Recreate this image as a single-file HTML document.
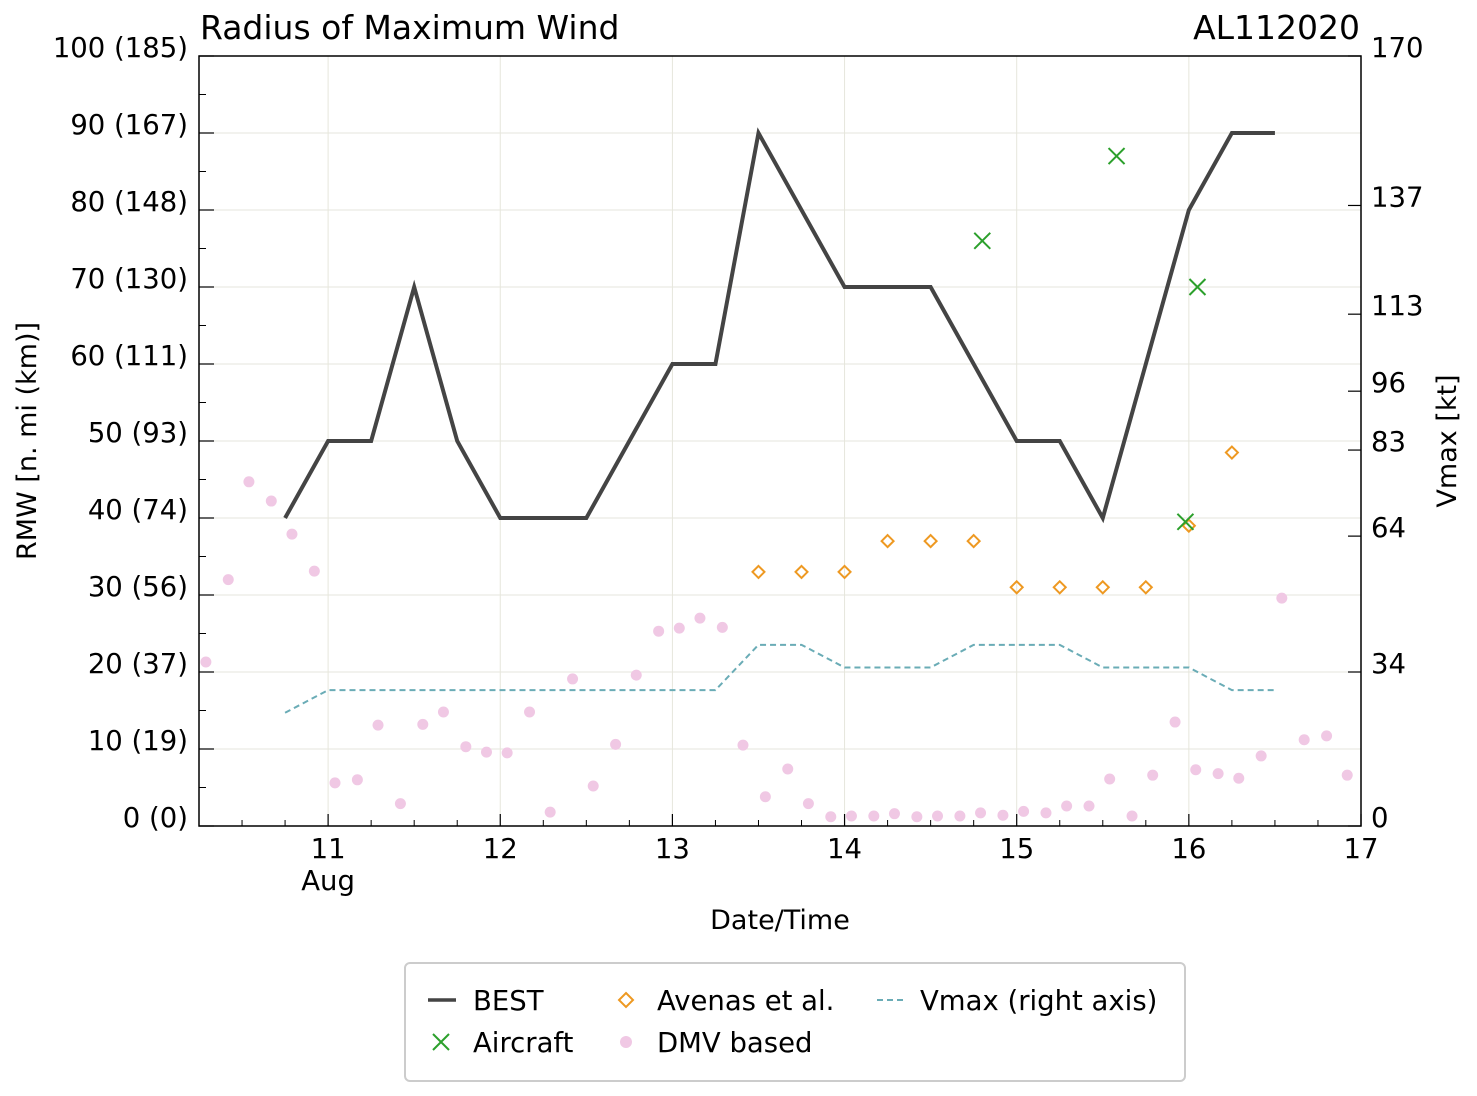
<!DOCTYPE html>
<html><head><meta charset="utf-8"><style>
html,body{margin:0;padding:0;background:#fff;}
svg{display:block;font-family:"DejaVu Sans","Liberation Sans",sans-serif;}
</style></head><body>
<svg id="chart" width="1477" height="1096" viewBox="0 0 1477 1096" xmlns="http://www.w3.org/2000/svg">
<text x="200" y="39" font-size="33">Radius of Maximum Wind</text>
<text x="1360" y="39" font-size="33" text-anchor="end">AL112020</text>
<g id="grid"></g>
<g id="marks"></g>
<rect x="199" y="56" width="1162" height="770" fill="none" stroke="#000" stroke-width="1.5"/>
<g id="axes"></g>
<text x="780" y="929" font-size="27" text-anchor="middle">Date/Time</text>
<text transform="translate(36,441) rotate(-90)" font-size="27" text-anchor="middle">RMW [n. mi (km)]</text>
<text transform="translate(1456,441) rotate(-90)" font-size="27" text-anchor="middle">Vmax [kt]</text>
<g>
<rect x="405" y="963" width="780" height="118" rx="5" fill="#fff" stroke="#ccc" stroke-width="2"/>
<g><line x1="428" y1="1000" x2="456" y2="1000" stroke="#444" stroke-width="3.5"/><text x="473" y="1010" font-size="27.5">BEST</text></g>
<g><path d="M433,1034 L449,1050 M449,1034 L433,1050" stroke="#2ca02c" stroke-width="2"/><text x="473" y="1052" font-size="27.5">Aircraft</text></g>
<g><path d="M626,993 L633,1000 L626,1007 L619,1000 Z" fill="none" stroke="#ee9922" stroke-width="2"/><text x="657" y="1010" font-size="27.5">Avenas et al.</text></g>
<g><circle cx="626" cy="1042" r="6" fill="#f0c8e4"/><text x="657" y="1052" font-size="27.5">DMV based</text></g>
<g><line x1="877" y1="1000" x2="906" y2="1000" stroke="#6aacb6" stroke-width="2" stroke-dasharray="6,4"/><text x="920" y="1010" font-size="27.5">Vmax (right axis)</text></g>
</g>
</svg>
<script>
const bestT=[10.75,11,11.25,11.5,11.75,12,12.5,13,13.25,13.5,14,14.5,15,15.25,15.5,16,16.25,16.5];
const bestR=[40,50,50,70,50,40,40,60,60,90,70,70,50,50,40,80,90,90];
const vmaxT=[10.75,11,13.25,13.5,13.75,14,14.5,14.75,15.25,15.5,16,16.25,16.5];
const vmaxV=[25,30,30,40,40,35,35,40,40,35,35,30,30];
const acT=[14.8,15.58,16.05,15.98];
const acR=[76,87,70,39.5];
const avT=[13.5,13.75,14,14.25,14.5,14.75,15,15.25,15.5,15.75,16,16.25];
const avR=[33,33,33,37,37,37,31,31,31,31,39,48.5];
const dmvT=[10.29,10.42,10.54,10.67,10.79,10.92,11.04,11.17,11.29,11.42,11.55,11.67,11.8,11.92,12.04,12.17,12.29,12.42,12.54,12.67,12.79,12.92,13.04,13.16,13.29,13.41,13.54,13.67,13.79,13.92,14.04,14.17,14.29,14.42,14.54,14.67,14.79,14.92,15.04,15.17,15.29,15.42,15.54,15.67,15.79,15.92,16.04,16.17,16.29,16.42,16.54,16.67,16.8,16.92];
const dmvR=[21.3,32,44.7,42.2,37.9,33.1,5.6,6,13.1,2.9,13.2,14.8,10.3,9.6,9.5,14.8,1.8,19.1,5.2,10.6,19.6,25.3,25.7,27,25.8,10.5,3.8,7.4,2.9,1.2,1.3,1.3,1.6,1.2,1.3,1.3,1.7,1.4,1.9,1.7,2.6,2.6,6.1,1.3,6.6,13.5,7.3,6.8,6.2,9.1,29.6,11.2,11.7,6.6];
const xTicks=[11,12,13,14,15,16,17];
const yTicks=[0,10,20,30,40,50,60,70,80,90,100];
const vTicks=[0,34,64,83,96,113,137,170];

const L=199,R=1361,T=56,B=826,XMIN=10.25,XMAX=17;
const X=t=>L+(t-XMIN)/(XMAX-XMIN)*(R-L);
const Y=v=>B-v/100*(B-T);
const V=v=>B-v/170*(B-T);
const NS="http://www.w3.org/2000/svg";
function mk(tag,attrs,parent){const e=document.createElementNS(NS,tag);for(const k in attrs)e.setAttribute(k,attrs[k]);parent.appendChild(e);return e;}
const grid=document.getElementById('grid'),axes=document.getElementById('axes'),marks=document.getElementById('marks');

xTicks.forEach(t=>{
  if(t<XMAX){const g=mk('line',{x1:X(t),x2:X(t),y1:T,y2:B,stroke:'#e6e6dc','stroke-width':1},grid);
  
  }
  mk('line',{x1:X(t),x2:X(t),y1:B,y2:B-12,stroke:'#000','stroke-width':1.2},axes);
  const tx=mk('text',{x:X(t),y:B+32,'font-size':27.5,'text-anchor':'middle'},axes);tx.textContent=t;
  
  
});
const aug=mk('text',{x:X(11),y:B+64,'font-size':27.5,'text-anchor':'middle'},axes);aug.textContent='Aug';


for(let t=10.5;t<17;t+=0.25){if(Math.abs(t-Math.round(t))>0.01)mk('line',{x1:X(t),x2:X(t),y1:B,y2:B-6,stroke:'#000','stroke-width':1},axes);}

yTicks.forEach(v=>{
  if(v>0&&v<100){const g=mk('line',{x1:L,x2:R,y1:Y(v),y2:Y(v),stroke:'#e6e6dc','stroke-width':1},grid);
  
  }
  mk('line',{x1:L,x2:L+15,y1:Y(v),y2:Y(v),stroke:'#000','stroke-width':1.2},axes);
  const tx=mk('text',{x:188,y:Y(v)+1,'font-size':27.5,'text-anchor':'end'},axes);tx.textContent=v+' ('+Math.round(v*1.852)+')';
  
  
});
for(let v=5;v<100;v+=10)mk('line',{x1:L,x2:L+7,y1:Y(v),y2:Y(v),stroke:'#000','stroke-width':1},axes);
vTicks.forEach(v=>{
  mk('line',{x1:R-13,x2:R,y1:V(v),y2:V(v),stroke:'#000','stroke-width':1.2},axes);
  const tx=mk('text',{x:1371,y:V(v)+1,'font-size':27.5},axes);tx.textContent=v;
  
  
});

dmvT.forEach((t,i)=>{const c=mk('circle',{cx:X(t),cy:Y(dmvR[i]),r:5.5,fill:'#f0c8e4'},marks);

});
const vl=mk('polyline',{points:vmaxT.map((t,i)=>X(t)+','+V(vmaxV[i])).join(' '),fill:'none',stroke:'#6aacb6','stroke-width':2,'stroke-dasharray':'6,4'},marks);


const bl=mk('polyline',{points:bestT.map((t,i)=>X(t)+','+Y(bestR[i])).join(' '),fill:'none',stroke:'#444','stroke-width':4,'stroke-linejoin':'miter'},marks);


avT.forEach((t,i)=>{const x=X(t),y=Y(avR[i]);const p=mk('path',{d:`M${x},${y-6}L${x+6},${y}L${x},${y+6}L${x-6},${y}Z`,fill:'none',stroke:'#ee9922','stroke-width':2},marks);

});
acT.forEach((t,i)=>{const x=X(t),y=Y(acR[i]);const p=mk('path',{d:`M${x-8},${y-8}L${x+8},${y+8}M${x+8},${y-8}L${x-8},${y+8}`,stroke:'#2ca02c','stroke-width':2},marks);

});
</script>
</body></html>
